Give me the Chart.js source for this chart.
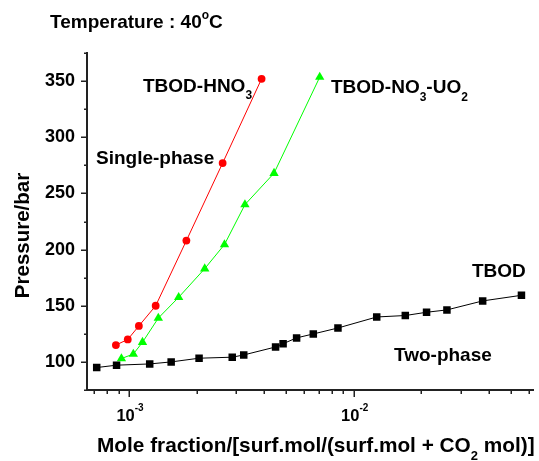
<!DOCTYPE html>
<html><head><meta charset="utf-8">
<script src="https://cdn.jsdelivr.net/npm/chart.js@4"></script>
<style>html,body{margin:0;padding:0;background:#fff;overflow:hidden}#wrap{position:relative;width:539px;height:461px}</style>
</head><body><div id="wrap"><canvas id="c"></canvas></div>
<script>
// ---- data ----
const tbodX = [7.18e-4, 8.80e-4, 1.236e-3, 1.54e-3, 2.05e-3, 2.88e-3, 3.24e-3, 4.49e-3, 4.85e-3, 5.57e-3, 6.61e-3, 8.51e-3, 1.266e-2, 1.697e-2, 2.11e-2, 2.60e-2, 3.75e-2, 5.58e-2];
const tbodP = [95.0, 97.1, 98.2, 100.0, 103.3, 104.2, 106.2, 113.3, 116.2, 121.4, 124.9, 130.2, 140.0, 141.3, 144.2, 146.3, 154.3, 159.3];
const hno3X = [8.74e-4, 9.87e-4, 1.106e-3, 1.314e-3, 1.80e-3, 2.61e-3, 3.89e-3];
const hno3P = [115, 120, 132, 150, 208, 277, 352];
const uo2X = [9.25e-4, 1.045e-3, 1.148e-3, 1.35e-3, 1.663e-3, 2.172e-3, 2.66e-3, 3.28e-3, 4.42e-3, 7.06e-3];
const uo2P = [103, 107, 117.5, 139, 157.5, 183, 204.5, 240, 268, 353.5];

const xTickValues = [7e-4, 8e-4, 9e-4, 1e-3, 2e-3, 3e-3, 4e-3, 5e-3, 6e-3, 7e-3, 8e-3, 9e-3, 1e-2, 2e-2, 3e-2, 4e-2, 5e-2, 6e-2];
const xTickLabels = ['', '', '', '10^-3', '', '', '', '', '', '', '', '', '10^-2', '', '', '', '', ''];
const yTickValues = [75, 100, 125, 150, 175, 200, 225, 250, 275, 300, 325, 350, 375];
const yTickLabels = ['', '100', '', '150', '', '200', '', '250', '', '300', '', '350', ''];

const FONT = '"Liberation Sans", Arial, sans-serif';

function measureRich(ctx, parts, size) {
  let w = 0;
  parts.forEach(([t, k]) => {
    const s = k === 'n' ? size : Math.round(size * 0.63);
    ctx.font = 'bold ' + s + 'px ' + FONT;
    w += ctx.measureText(t).width;
  });
  return w;
}
function rich(ctx, parts, x, y, size, supRaise) {
  let cx = x;
  parts.forEach(([t, k]) => {
    const s = k === 'n' ? size : Math.round(size * 0.63);
    const dy = k === 'sub' ? size * 0.4 : (k === 'sup' ? -size * (supRaise || 0.45) : 0);
    ctx.font = 'bold ' + s + 'px ' + FONT;
    ctx.fillText(t, cx, y + dy);
    cx += ctx.measureText(t).width;
  });
  return cx - x;
}

const deco = {
  id: 'deco',
  afterDraw(chart) {
    const ctx = chart.ctx, xs = chart.scales.x, ys = chart.scales.y, a = chart.chartArea;
    ctx.save();
    ctx.strokeStyle = '#222';
    ctx.lineWidth = 1.5;
    ctx.beginPath();
    xTickValues.forEach(v => {
      const px = Math.round(xs.getPixelForValue(v)) + 0.25;
      const lg = Math.log10(v);
      const major = Math.abs(lg - Math.round(lg)) < 1e-9;
      ctx.moveTo(px, a.bottom);
      ctx.lineTo(px, a.bottom + (major ? 7 : 4));
    });
    yTickValues.forEach(v => {
      const py = Math.round(ys.getPixelForValue(v)) + 0.25;
      const major = v % 50 === 0;
      ctx.moveTo(a.left, py);
      ctx.lineTo(a.left - (major ? 6 : 3), py);
    });
    ctx.stroke();

    ctx.fillStyle = '#000';
    ctx.textAlign = 'left';
    ctx.textBaseline = 'alphabetic';

    // x tick labels (base with superscript exponent), placed by the log scale
    xTickValues.forEach((v, i) => {
      const lab = xTickLabels[i];
      if (!lab) return;
      const [base, ex] = lab.split('^');
      const parts = [[base, 'n'], [ex, 'sup']];
      const w = measureRich(ctx, parts, 16.5);
      const px = xs.getPixelForValue(v);
      rich(ctx, parts, px - w / 2 + 1, 421, 16.5, 0.62);
    });

    rich(ctx, [['Temperature : 40', 'n'], ['o', 'sup'], ['C', 'n']], 50, 28, 19);
    rich(ctx, [['TBOD-HNO', 'n'], ['3', 'sub']], 143, 91.5, 19);
    rich(ctx, [['TBOD-NO', 'n'], ['3', 'sub'], ['-UO', 'n'], ['2', 'sub']], 331, 93, 19);
    rich(ctx, [['Single-phase', 'n']], 96, 164, 19);
    rich(ctx, [['TBOD', 'n']], 472, 276.5, 19);
    rich(ctx, [['Two-phase', 'n']], 394, 361, 19);

    // x axis title
    rich(ctx, [['Mole fraction/[surf.mol/(surf.mol + CO', 'n'], ['2', 'sub'], [' mol)]', 'n']], 97, 451.5, 20.8);

    // y axis title
    ctx.save();
    ctx.translate(28.5, 235.5);
    ctx.rotate(-Math.PI / 2);
    ctx.textAlign = 'center';
    ctx.font = 'bold 20.5px ' + FONT;
    ctx.fillText('Pressure/bar', 0, 0);
    ctx.restore();
    ctx.restore();
  }
};

const mk = (xs, ys) => xs.map((x, i) => ({x: x, y: ys[i]}));

new Chart(document.getElementById('c'), {
  type: 'scatter',
  data: {
    datasets: [
      {label: 'TBOD', data: mk(tbodX, tbodP), showLine: true, borderColor: '#000', backgroundColor: '#000',
       borderWidth: 1, pointStyle: 'rect', pointRadius: 5.3, pointBorderWidth: 0, pointBackgroundColor: '#000'},
      {label: 'TBOD-HNO3', data: mk(hno3X, hno3P), showLine: true, borderColor: '#ff0000', backgroundColor: '#ff0000',
       borderWidth: 1, pointStyle: 'circle', pointRadius: 3.9, pointBorderWidth: 0, pointBackgroundColor: '#ff0000'},
      {label: 'TBOD-NO3-UO2', data: mk(uo2X, uo2P), showLine: true, borderColor: '#00ff00', backgroundColor: '#00ff00',
       borderWidth: 1, pointStyle: 'triangle', pointRadius: 5.4, pointBorderWidth: 0, pointBackgroundColor: '#00ff00'}
    ]
  },
  options: {
    responsive: true,
    maintainAspectRatio: false,
    animation: false,
    layout: {padding: {top: 53, left: 0, right: 0, bottom: 0}},
    plugins: {legend: {display: false}, tooltip: {enabled: false}},
    scales: {
      x: {
        type: 'logarithmic', position: 'bottom', min: 6.5e-4, max: 0.0632,
        grid: {display: false, drawTicks: false},
        border: {display: true, color: '#222', width: 2},
        afterBuildTicks: s => { s.ticks = xTickValues.map(v => ({value: v})); },
        afterFit: s => { s.height = 71; },
        ticks: {display: false, autoSkip: false, maxRotation: 0, minRotation: 0}
      },
      y: {
        type: 'linear', position: 'left', min: 75, max: 375,
        grid: {display: false, drawTicks: false},
        border: {display: true, color: '#222', width: 2},
        afterBuildTicks: s => { s.ticks = yTickValues.map(v => ({value: v})); },
        afterFit: s => { s.width = 87; },
        ticks: {autoSkip: false, padding: 12, color: '#000',
          font: {family: FONT, size: 18, weight: 'bold'},
          callback: (v, i) => yTickLabels[i]}
      }
    }
  },
  plugins: [deco]
});
</script>
</body></html>
